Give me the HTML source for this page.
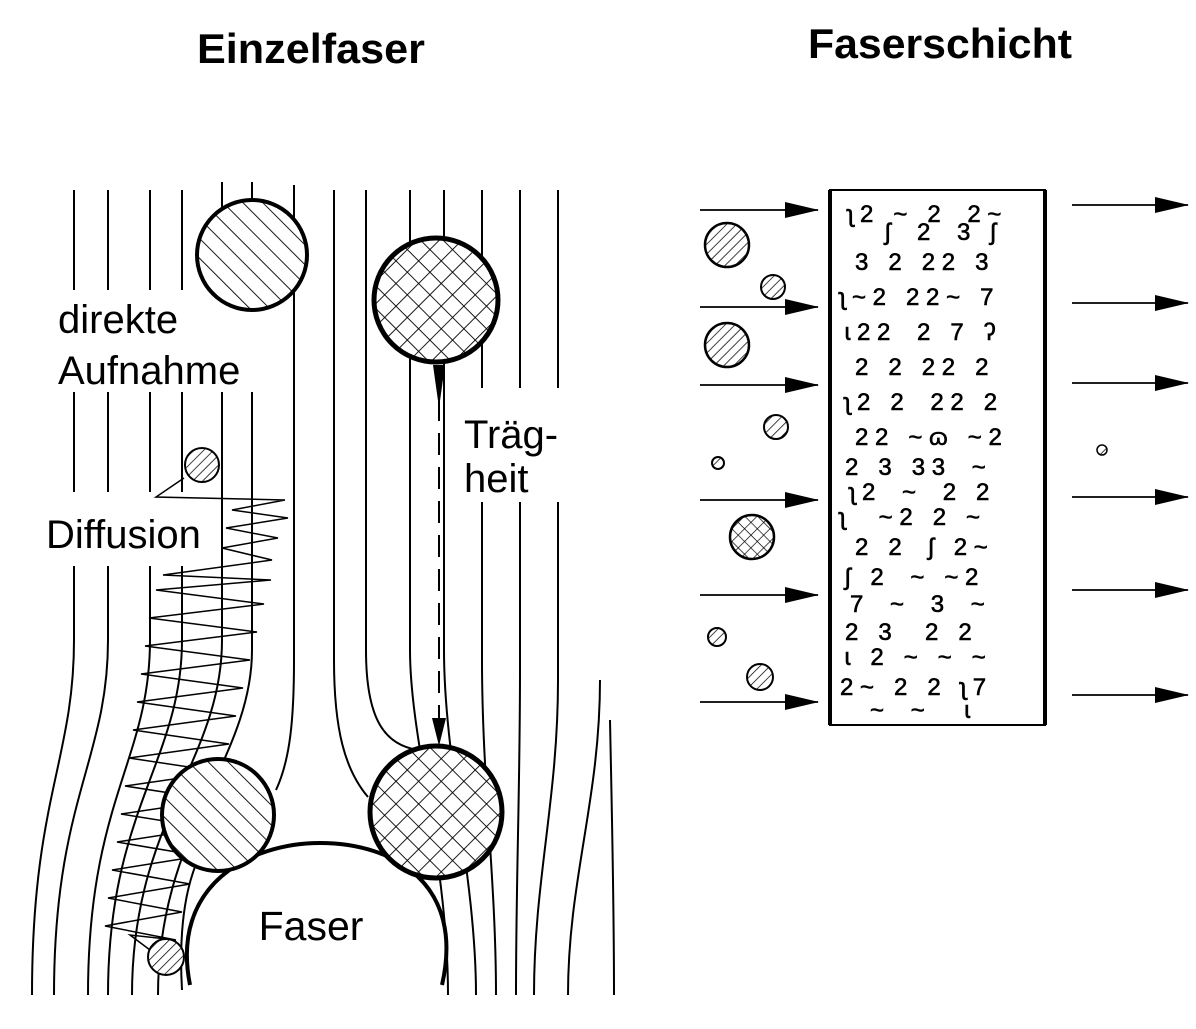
<!DOCTYPE html>
<html><head><meta charset="utf-8"><style>
html,body{margin:0;padding:0;background:#fff;}
svg{display:block;}
text{font-family:"Liberation Sans",Arial,sans-serif;fill:#000;}
</style></head><body>
<svg width="1196" height="1029" viewBox="0 0 1196 1029" xmlns="http://www.w3.org/2000/svg">
<defs>
<pattern id="h1" patternUnits="userSpaceOnUse" width="14" height="14" patternTransform="rotate(-45)">
<line x1="0" y1="0" x2="0" y2="14" stroke="#000" stroke-width="1.8"/></pattern>
<pattern id="h2" patternUnits="userSpaceOnUse" width="7" height="7" patternTransform="rotate(45)">
<line x1="0" y1="0" x2="0" y2="7" stroke="#000" stroke-width="1.5"/></pattern>
<pattern id="x1" patternUnits="userSpaceOnUse" width="16" height="16" patternTransform="rotate(45)">
<line x1="0" y1="0" x2="0" y2="16" stroke="#000" stroke-width="1.8"/><line x1="0" y1="0" x2="16" y2="0" stroke="#000" stroke-width="1.8"/></pattern>
<pattern id="x2" patternUnits="userSpaceOnUse" width="9" height="9" patternTransform="rotate(45)">
<line x1="0" y1="0" x2="0" y2="9" stroke="#000" stroke-width="1.4"/><line x1="0" y1="0" x2="9" y2="0" stroke="#000" stroke-width="1.4"/></pattern>
<marker id="ar2" markerWidth="34" markerHeight="16" refX="33" refY="8" orient="auto" markerUnits="userSpaceOnUse">
<path d="M0,0 L34,8 L0,16 Z" fill="#000"/></marker>
</defs>

<text x="311" y="63" font-size="42" font-weight="bold" text-anchor="middle" textLength="228" lengthAdjust="spacingAndGlyphs">Einzelfaser</text>
<text x="940" y="58" font-size="42" font-weight="bold" text-anchor="middle" textLength="264" lengthAdjust="spacingAndGlyphs">Faserschicht</text>

<g fill="none" stroke="#000" stroke-width="2">
<path d="M74,190 L74,640 C74,760 32,800 32,995"/>
<path d="M108,190 L108,640 C108,760 54,800 54,995"/>
<path d="M150,190 L150,640 C150,760 88,800 88,995"/>
<path d="M182,190 L182,640 C182,760 108,810 108,995"/>
<path d="M222,182 L222,640 C222,760 132,820 132,995"/>
<path d="M252,182 L252,650 C252,760 158,830 158,995"/>
<path d="M294,185 L294,660 C294,720 290,760 276,790"/>
<path d="M182,990 C178,920 188,880 200,855"/>
<path d="M334,190 L334,660 C334,730 345,770 368,797"/>
<path d="M366,190 L366,650 C366,720 385,745 418,750"/>
<path d="M410,190 L410,650 C410,740 448,860 448,995"/>
<path d="M444,190 L444,650 C444,760 476,880 476,995"/>
<path d="M482,190 L482,660 C482,780 496,880 496,995"/>
<path d="M520,190 L520,670 C520,790 516,880 516,995"/>
<path d="M558,190 L558,680 C558,800 534,880 534,995"/>
<path d="M600,680 C600,800 568,880 568,995"/>
<path d="M610,720 C612,820 614,900 614,995"/>
</g>

<rect x="55" y="290" width="210" height="102" fill="#fff"/>
<rect x="40" y="492" width="175" height="74" fill="#fff"/>
<rect x="462" y="388" width="110" height="114" fill="#fff"/>

<polyline fill="none" stroke="#000" stroke-width="1.5" points="184,478 156,497 285,500 232,510 288,518 226,528 278,538 222,548 272,560 163,575 271,580 156,590 264,604 149,618 257,632 145,646 250,660 141,674 243,688 137,702 236,716 133,730 229,744 129,758 222,772 125,786 215,800 121,814 208,828 117,842 200,856 112,870 190,884 108,898 182,912 105,926 176,940 130,935 150,950"/>

<path d="M190,985 C170,885 250,843 320,843 C395,843 465,885 442,985" fill="#fff" stroke="#000" stroke-width="4"/>
<text x="311" y="940" font-size="41" text-anchor="middle">Faser</text>

<g stroke="#000">
<circle cx="252" cy="255" r="55" fill="#fff" stroke="none"/><circle cx="252" cy="255" r="55" fill="url(#h1)" stroke-width="4"/>
<circle cx="436" cy="300" r="62" fill="#fff" stroke="none"/><circle cx="436" cy="300" r="62" fill="url(#x1)" stroke-width="5"/>
<circle cx="218" cy="815" r="56" fill="#fff" stroke="none"/><circle cx="218" cy="815" r="56" fill="url(#h1)" stroke-width="4"/>
<circle cx="436" cy="812" r="66" fill="#fff" stroke="none"/><circle cx="436" cy="812" r="66" fill="url(#x1)" stroke-width="5"/>
<circle cx="202" cy="465" r="17" fill="#fff" stroke="none"/><circle cx="202" cy="465" r="17" fill="url(#h2)" stroke-width="2"/>
<circle cx="166" cy="957" r="18" fill="#fff" stroke="none"/><circle cx="166" cy="957" r="18" fill="url(#h2)" stroke-width="2"/>
</g>

<line x1="439" y1="365" x2="439" y2="725" stroke="#000" stroke-width="2" stroke-dasharray="22,12"/>
<path d="M433,365 L445,365 L439,408 Z" fill="#000"/>
<path d="M432,718 L446,718 L439,746 Z" fill="#000"/>

<text x="58" y="333" font-size="40">direkte</text>
<text x="58" y="384" font-size="40">Aufnahme</text>
<text x="46" y="548" font-size="40">Diffusion</text>
<text x="464" y="448" font-size="40">Träg-</text>
<text x="464" y="492" font-size="40">heit</text>

<rect x="830" y="190" width="215" height="535" fill="#fff" stroke="#000" stroke-width="2"/>
<line x1="830" y1="190" x2="830" y2="725" stroke="#000" stroke-width="4"/>
<line x1="1045" y1="190" x2="1045" y2="725" stroke="#000" stroke-width="4"/>
<g stroke="#000" stroke-width="1.8">
<line x1="700" y1="210" x2="818" y2="210" marker-end="url(#ar2)"/>
<line x1="700" y1="307" x2="818" y2="307" marker-end="url(#ar2)"/>
<line x1="700" y1="385" x2="818" y2="385" marker-end="url(#ar2)"/>
<line x1="700" y1="500" x2="818" y2="500" marker-end="url(#ar2)"/>
<line x1="700" y1="595" x2="818" y2="595" marker-end="url(#ar2)"/>
<line x1="700" y1="702" x2="818" y2="702" marker-end="url(#ar2)"/>
<line x1="1072" y1="205" x2="1188" y2="205" marker-end="url(#ar2)"/>
<line x1="1072" y1="303" x2="1188" y2="303" marker-end="url(#ar2)"/>
<line x1="1072" y1="383" x2="1188" y2="383" marker-end="url(#ar2)"/>
<line x1="1072" y1="497" x2="1188" y2="497" marker-end="url(#ar2)"/>
<line x1="1072" y1="590" x2="1188" y2="590" marker-end="url(#ar2)"/>
<line x1="1072" y1="695" x2="1188" y2="695" marker-end="url(#ar2)"/>
</g>
<g stroke="#000">
<circle cx="727" cy="245" r="22" fill="url(#h2)" stroke-width="2.5"/>
<circle cx="773" cy="287" r="12" fill="url(#h2)" stroke-width="2"/>
<circle cx="727" cy="345" r="22" fill="url(#h2)" stroke-width="2.5"/>
<circle cx="776" cy="427" r="12" fill="url(#h2)" stroke-width="2"/>
<circle cx="718" cy="463" r="6" fill="url(#h2)" stroke-width="2"/>
<circle cx="752" cy="537" r="22" fill="url(#x2)" stroke-width="2.5"/>
<circle cx="717" cy="637" r="9" fill="url(#h2)" stroke-width="2"/>
<circle cx="760" cy="677" r="13" fill="url(#h2)" stroke-width="2"/>
<circle cx="1102" cy="450" r="5" fill="url(#h2)" stroke-width="1.5"/>
</g>

<g font-size="24" stroke="#000" stroke-width="0.6" font-family="Liberation Sans,sans-serif">
<text x="848" y="222">ʅ 2 &#160; ~ &#160; 2 &#160;&#160; 2 ~</text>
<text x="885" y="240">ʃ &#160;&#160; 2 &#160;&#160; 3 &#160; ʃ</text>
<text x="855" y="270">3 &#160; 2 &#160; 2 2 &#160; 3</text>
<text x="840" y="305">ʅ ~ 2 &#160; 2 2 ~ &#160; 7</text>
<text x="845" y="340">ɩ 2 2 &#160;&#160; 2 &#160; 7 &#160; ʔ</text>
<text x="855" y="375">2 &#160; 2 &#160; 2 2 &#160; 2</text>
<text x="845" y="410">ʅ 2 &#160; 2 &#160;&#160; 2 2 &#160; 2</text>
<text x="855" y="445">2 2 &#160; ~ ɷ &#160; ~ 2</text>
<text x="845" y="475">2 &#160; 3 &#160; 3 3 &#160;&#160; ~</text>
<text x="850" y="500">ʅ 2 &#160;&#160; ~ &#160;&#160; 2 &#160; 2</text>
<text x="840" y="525">ʅ &#160;&#160;&#160; ~ 2 &#160; 2 &#160; ~</text>
<text x="855" y="555">2 &#160; 2 &#160;&#160; ʃ &#160; 2 ~</text>
<text x="845" y="585">ʃ &#160; 2 &#160;&#160; ~ &#160; ~ 2</text>
<text x="850" y="612">7 &#160;&#160; ~ &#160;&#160; 3 &#160;&#160; ~</text>
<text x="845" y="640">2 &#160; 3 &#160;&#160;&#160; 2 &#160; 2</text>
<text x="845" y="665">ɩ &#160; 2 &#160; ~ &#160; ~ &#160; ~</text>
<text x="840" y="695">2 ~ &#160; 2 &#160; 2 &#160; ʅ 7</text>
<text x="870" y="718">~ &#160;&#160; ~ &#160;&#160;&#160;&#160; ɩ</text>
</g>
</svg>
</body></html>
